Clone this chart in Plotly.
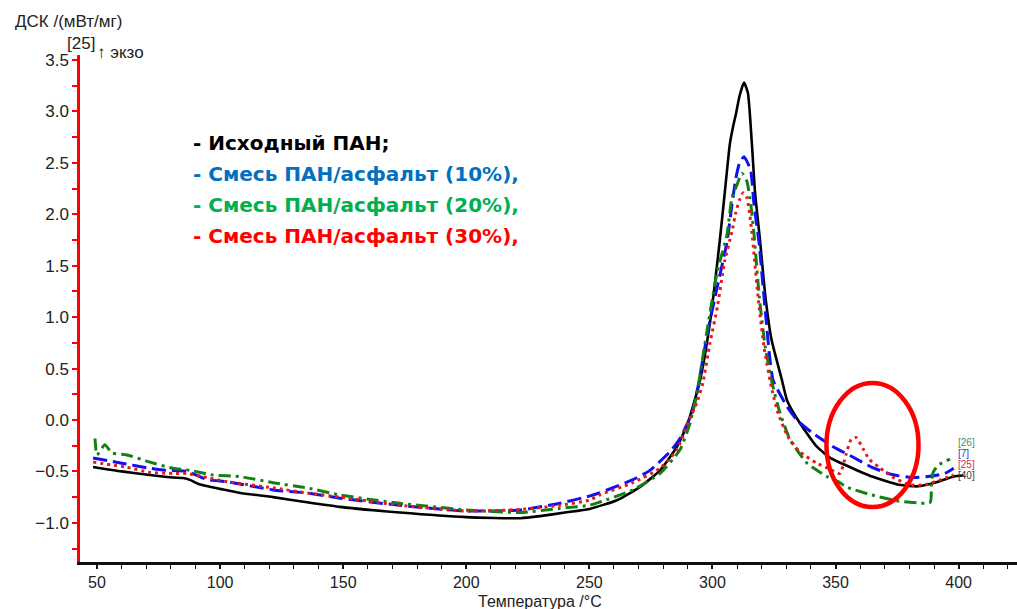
import plotly.graph_objects as go

# ---- data ----
t_pan = [48.4, 60, 71.5, 80.9, 85, 88, 91, 95, 100, 108.1, 121.5, 135.3, 148.7, 173, 200, 222, 230, 240,
         250, 261.2, 270.6, 278.7, 285.6, 290, 295, 299, 303, 305, 307.1, 308.8, 309.5, 311, 312.8,
         314.4, 316, 317.3, 319.3, 321.5, 324, 328.2, 330.3, 335.5, 342.4, 348, 354.2, 364.8, 375.8,
         383.5, 391.6, 398, 402]
v_pan = [-0.457, -0.50, -0.535, -0.56, -0.565, -0.585, -0.62, -0.645, -0.67, -0.71, -0.75, -0.80, -0.845,
         -0.90, -0.945, -0.955, -0.935, -0.90, -0.865, -0.78, -0.65, -0.49, -0.26, -0.03, 0.39, 0.95,
         1.75, 2.21, 2.69, 2.90, 2.97, 3.15, 3.28, 3.18, 2.69, 2.21, 1.75, 1.2, 0.78, 0.39, 0.19, -0.03,
         -0.26, -0.37, -0.44, -0.55, -0.63, -0.645, -0.60, -0.55, -0.54]

t_10 = [48.4, 60, 71.5, 78, 86.6, 94.7, 102.8, 121.5, 135.3, 148.7, 173, 200, 222, 238, 250, 254, 267.7,
        274.6, 282.7, 286.8, 291.7, 294.1, 298, 302, 305.9, 307.9, 309.5, 311, 312.8, 314.3, 315.6,
        316.9, 318.9, 321.5, 324.6, 330.3, 334.3, 340.8, 349, 357, 364.8, 372.9, 381, 387.5, 394.4, 398]
v_10 = [-0.37, -0.42, -0.47, -0.49, -0.50, -0.58, -0.60, -0.68, -0.71, -0.76, -0.83, -0.885, -0.875,
        -0.81, -0.74, -0.71, -0.58, -0.49, -0.31, -0.18, 0.07, 0.32, 0.85, 1.3, 1.73, 2.09, 2.35, 2.50,
        2.56, 2.50, 2.42, 2.09, 1.73, 1.05, 0.39, 0.13, 0.0, -0.13, -0.26, -0.36, -0.46, -0.53, -0.56,
        -0.55, -0.52, -0.47]

t_20 = [49.2, 50, 53.2, 56, 62.2, 71.5, 80.9, 87.8, 97.1, 108, 121.5, 135.3, 148.7, 173, 200, 222, 238,
        250, 254, 267.7, 278.7, 286.8, 290.9, 293.7, 298, 302, 305.9, 307.9, 310, 312, 314, 315.6, 316.9,
        319, 321.5, 324.6, 327.4, 331.5, 338.4, 346.5, 351.8, 354.2, 364.8, 375.8, 386.3, 388.5, 389.0,
        389.6, 391.6, 396.5]
v_20 = [-0.18, -0.34, -0.24, -0.32, -0.34, -0.41, -0.47, -0.49, -0.535, -0.55, -0.61, -0.66, -0.73,
        -0.81, -0.875, -0.90, -0.86, -0.83, -0.80, -0.68, -0.52, -0.29, -0.03, 0.26, 0.9, 1.45, 1.80,
        2.16, 2.29, 2.40, 2.32, 2.09, 1.80, 1.2, 0.7, 0.32, 0.07, -0.19, -0.42, -0.55, -0.61, -0.65,
        -0.73, -0.79, -0.81, -0.80, -0.62, -0.51, -0.44, -0.38]

t_30 = [48.4, 62.2, 71.5, 80.9, 86.6, 94.7, 102.8, 121.5, 135.3, 148.7, 173, 200, 222, 238, 250, 254,
        267.7, 278.7, 285.6, 290, 293.7, 296.1, 299, 302, 305, 307.9, 309.5, 311, 312.5, 314, 314.8,
        316, 318.5, 321, 324.2, 326.6, 330.7, 335.5, 342.4, 347, 351.8, 354.2, 356.3, 358.3, 361.2,
        363.6, 367.7, 372.9, 379.8, 386.3, 392.8, 398]
v_30 = [-0.41, -0.46, -0.51, -0.52, -0.52, -0.56, -0.60, -0.66, -0.71, -0.75, -0.83, -0.885, -0.87,
        -0.83, -0.78, -0.73, -0.61, -0.47, -0.29, -0.03, 0.17, 0.36, 0.75, 1.1, 1.55, 1.83, 2.02, 2.14,
        2.21, 2.16, 2.06, 1.83, 1.2, 0.7, 0.29, 0.07, -0.165, -0.31, -0.42, -0.47, -0.52, -0.34, -0.19,
        -0.17, -0.28, -0.38, -0.46, -0.55, -0.63, -0.63, -0.58, -0.535]

legend_lines = ["- Исходный ПАН;", "- Смесь ПАН/асфальт (10%),",
                "- Смесь ПАН/асфальт (20%),", "- Смесь ПАН/асфальт (30%),"]
legend_colors = ["#000000", "#0070C0", "#00B050", "#FF0000"]
end_labels = ["[26]", "[7]", "[25]", "[40]"]
end_label_px = [442, 453, 464, 475]
end_label_colors = ["#3f8f5f", "#3030d0", "#d03050", "#404040"]

x_ticks = [50, 100, 150, 200, 250, 300, 350, 400]

# ---- figure ----
L, R, T, B = 80, 0, 55, 47
W, H = 1017, 609
pw, ph = W - L - R, H - T - B


def px(x):
    return (x - L) / pw


def py(y):
    return (H - B - y) / ph


fig = go.Figure()
fig.add_trace(go.Scatter(x=t_pan, y=v_pan, mode="lines",
                         line=dict(color="#000000", width=2.6, shape="spline", smoothing=0.5)))
fig.add_trace(go.Scatter(x=t_10, y=v_10, mode="lines",
                         line=dict(color="#1010F0", width=3, dash="14px,6px", shape="spline", smoothing=0.5)))
fig.add_trace(go.Scatter(x=t_20, y=v_20, mode="lines",
                         line=dict(color="#138013", width=3, dash="12px,5px,3px,5px", shape="spline", smoothing=0.5)))
fig.add_trace(go.Scatter(x=t_30, y=v_30, mode="lines",
                         line=dict(color="#E81818", width=3, dash="3px,4px", shape="spline", smoothing=0.5)))

# red ellipse highlight
fig.add_shape(type="circle", xref="x", yref="y", x0=346.3, x1=383.7, y0=-0.846, y1=0.36,
              line=dict(color="#FF0000", width=4.5))

annotations = []
# legend text
for i, (txt, col) in enumerate(zip(legend_lines, legend_colors)):
    annotations.append(dict(text="<b>" + txt + "</b>", xref="paper", yref="paper",
                            x=px(191), y=py(143 + 31 * i), xanchor="left", yanchor="middle",
                            showarrow=False,
                            font=dict(family="DejaVu Sans", size=20, color=col)))
# end-of-curve labels
for txt, yy, col in zip(end_labels, end_label_px, end_label_colors):
    annotations.append(dict(text=txt, xref="paper", yref="paper", x=px(956), y=py(yy), xanchor="left",
                            yanchor="middle", showarrow=False,
                            font=dict(family="Liberation Sans", size=10, color=col)))
# axis labels
annotations.append(dict(text="ДСК /(мВт/мг)", xref="paper", yref="paper", x=px(13), y=py(21),
                        xanchor="left", yanchor="middle", showarrow=False,
                        font=dict(family="Liberation Sans", size=17, color="#222")))
annotations.append(dict(text="[25]", xref="paper", yref="paper", x=px(65), y=py(43),
                        xanchor="left", yanchor="middle", showarrow=False,
                        font=dict(family="Liberation Sans", size=17, color="#222")))
annotations.append(dict(text="↑ экзо", xref="paper", yref="paper", x=px(95), y=py(53),
                        xanchor="left", yanchor="middle", showarrow=False,
                        font=dict(family="Liberation Sans", size=17, color="#222")))
annotations.append(dict(text="Температура /°C", xref="paper", yref="paper", x=px(540), y=py(601),
                        xanchor="center", yanchor="middle", showarrow=False,
                        font=dict(family="Liberation Sans", size=16, color="#222")))

fig.update_layout(
    width=W, height=H,
    margin=dict(l=L, r=R, t=T, b=B, pad=0),
    paper_bgcolor="white", plot_bgcolor="white",
    showlegend=False,
    annotations=annotations,
    font=dict(family="Liberation Sans", size=17, color="#222"),
)
fig.update_xaxes(range=[43.1, 423.7], tickvals=x_ticks, ticktext=[str(v) for v in x_ticks],
                 showgrid=False, zeroline=False, showline=True, linecolor="#111", linewidth=3,
                 ticks="outside", ticklen=4, tickcolor="#111", tickwidth=1.5,
                 minor=dict(dtick=10, tick0=0, ticks="outside", ticklen=4, tickcolor="#111", tickwidth=1.2),
                 tickfont=dict(family="Liberation Sans", size=16, color="#222"))
fig.update_yaxes(range=[-1.381, 3.549], dtick=0.5, tick0=0, tickformat=".1f",
                 showgrid=False, zeroline=False, showline=True, linecolor="#FF0000", linewidth=2.5,
                 ticks="outside", ticklen=5, tickcolor="#FF0000", tickwidth=1.5,
                 minor=dict(dtick=0.25, tick0=0, ticks="outside", ticklen=5, tickcolor="#FF0000", tickwidth=1.5),
                 tickfont=dict(family="Liberation Sans", size=17, color="#222"))

fig.write_html("out.html")
